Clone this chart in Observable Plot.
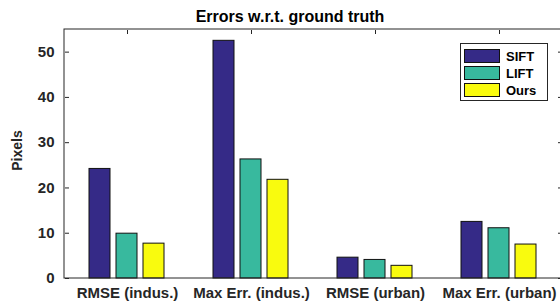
<!DOCTYPE html>
<html>
<head>
<meta charset="utf-8">
<script src="https://cdn.jsdelivr.net/npm/d3@7"></script>
<script src="https://cdn.jsdelivr.net/npm/@observablehq/plot@0.6"></script>
<style>
  html, body { margin: 0; padding: 0; background: #fff; }
  #chart { width: 560px; height: 301px; overflow: hidden; }
</style>
</head>
<body>
<div id="chart"></div>
<script>
const categories = ["RMSE (indus.)", "Max Err. (indus.)", "RMSE (urban)", "Max Err. (urban)"];
const series = ["SIFT", "LIFT", "Ours"];
const siftValues = [24.2, 52.5, 4.6, 12.5];
const liftValues = [9.9, 26.3, 4.1, 11.1];
const oursValues = [7.7, 21.8, 2.8, 7.5];
const yTicks = [0, 10, 20, 30, 40, 50];
const seriesColors = ["#352a87", "#38b99e", "#f9fb0e"];
const titleText = "Errors w.r.t. ground truth";
const yLabel = "Pixels";

const valuesBySeries = [siftValues, liftValues, oursValues];
const data = [];
categories.forEach((c, i) => {
  series.forEach((s, j) => {
    data.push({category: c, series: s, value: valuesBySeries[j][i]});
  });
});

const W = 560, H = 301;
const mL = 64, mR = -1, mT = 29, mB = 23;
const axisColor = "#262626";

const plot = Plot.plot({
  width: W,
  height: H,
  marginLeft: mL,
  marginRight: mR,
  marginTop: mT,
  marginBottom: mB,
  style: {fontFamily: "Liberation Sans, Arial, sans-serif", fontWeight: "bold", fontSize: "15px", color: axisColor, background: "#fff", overflow: "visible"},
  fx: {domain: categories, padding: 0, label: null},
  x: {domain: series, paddingInner: 0.21, paddingOuter: 0.835, axis: null},
  y: {domain: [0, 55], ticks: yTicks, label: null},
  color: {domain: series, range: seriesColors},
  marks: [
    Plot.barY(data, {fx: "category", x: "series", y: "value", fill: "series", stroke: "#111", strokeWidth: 1}),
    Plot.axisY({anchor: "left", ticks: yTicks, tickSize: -4, tickPadding: 15, label: null, stroke: axisColor, fontSize: 15}),
    Plot.axisY({anchor: "right", ticks: yTicks, tickSize: -4, tickFormat: () => "", label: null, stroke: axisColor}),
    Plot.axisFx({anchor: "top", tickSize: -4, tickFormat: () => "", label: null, stroke: axisColor}),
    Plot.axisFx({anchor: "bottom", tickSize: 0, tickPadding: 9, label: null, fontSize: 15})
  ]
});

document.getElementById("chart").appendChild(plot);

const svg = d3.select(plot);
// outer axes box
svg.append("rect")
  .attr("x", mL).attr("y", mT)
  .attr("width", W - mR - mL).attr("height", H - mB - mT)
  .attr("fill", "none").attr("stroke", axisColor).attr("stroke-width", 1);

// title
svg.append("text")
  .attr("x", 290).attr("y", 22)
  .attr("text-anchor", "middle")
  .attr("font-size", 16).attr("font-weight", "bold").attr("fill", "#000")
  .text(titleText);

// y label
svg.append("text")
  .attr("transform", `translate(22,${(mT + H - mB) / 2 - 3}) rotate(-90)`)
  .attr("text-anchor", "middle")
  .attr("font-size", 14).attr("font-weight", "bold").attr("fill", axisColor)
  .text(yLabel);

// legend
const color = plot.scale("color");
const lg = svg.append("g").attr("text-anchor", "start");
lg.append("rect").attr("x", 460.5).attr("y", 43.5).attr("width", 87).attr("height", 57)
  .attr("fill", "#fff").attr("stroke", axisColor).attr("stroke-width", 1);
series.forEach((s, i) => {
  const y0 = 49.5 + i * 17;
  lg.append("rect").attr("x", 464.5).attr("y", y0).attr("width", 35).attr("height", 13)
    .attr("fill", seriesColors[color.domain.indexOf(s)]).attr("stroke", "#111").attr("stroke-width", 1);
  lg.append("text").attr("x", 506).attr("y", y0 + 11.5)
    .attr("text-anchor", "start")
    .attr("font-size", 13).attr("font-weight", "bold").attr("fill", "#000")
    .text(s);
});
</script>
</body>
</html>
